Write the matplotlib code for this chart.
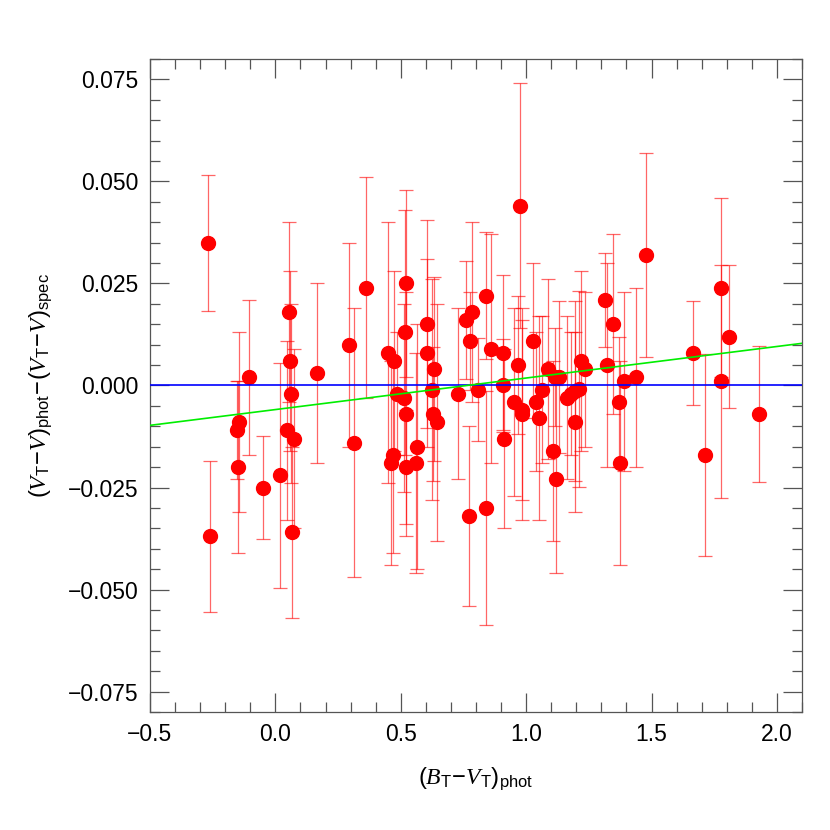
import numpy as np
import matplotlib
matplotlib.use('Agg')
import matplotlib.pyplot as plt
from matplotlib.ticker import MultipleLocator, FuncFormatter

# Colour index (B_T - V_T)_phot
bv = [-0.270, -0.262, -0.105, -0.144, -0.154, -0.150, -0.050, 0.019, 0.055, 0.059,
      0.063, 0.046, 0.075, 0.067, 0.167, 0.292, 0.315, 0.362, 0.450, 0.474,
      0.484, 0.512, 0.522, 0.521, 0.517, 0.468, 0.462, 0.519, 0.564, 0.559,
      0.604, 0.604, 0.632, 0.626, 0.629, 0.643, 0.729, 0.759, 0.785, 0.777,
      0.809, 0.774, 0.840, 0.839, 0.858, 0.909, 0.908, 0.910, 0.975, 0.969,
      0.951, 0.982, 0.982, 1.026, 1.062, 1.041, 1.050, 1.088, 1.115, 1.130,
      1.109, 1.117, 1.161, 1.179, 1.195, 1.210, 1.195, 1.217, 1.234, 1.315,
      1.347, 1.323, 1.391, 1.371, 1.374, 1.437, 1.479, 1.665, 1.712, 1.775,
      1.775, 1.809, 1.929]

# (V_T - V)_phot - (V_T - V)_spec
dv = [0.035, -0.037, 0.002, -0.009, -0.011, -0.020, -0.025, -0.022, 0.018, 0.006,
      -0.002, -0.011, -0.013, -0.036, 0.003, 0.010, -0.014, 0.024, 0.008, 0.006,
      -0.002, -0.003, -0.007, 0.025, 0.013, -0.017, -0.019, -0.020, -0.015, -0.019,
      0.015, 0.008, 0.004, -0.001, -0.007, -0.009, -0.002, 0.016, 0.018, 0.011,
      -0.001, -0.032, 0.022, -0.030, 0.009, 0.008, 0.000, -0.013, 0.044, 0.005,
      -0.004, -0.006, -0.007, 0.011, -0.001, -0.004, -0.008, 0.004, 0.002, 0.002,
      -0.016, -0.023, -0.003, -0.002, -0.0013, -0.0008, -0.009, 0.006, 0.004, 0.021,
      0.015, 0.005, 0.001, -0.004, -0.019, 0.002, 0.032, 0.008, -0.017, 0.024,
      0.001, 0.012, -0.007]

err = [0.0167, 0.0185, 0.019, 0.022, 0.012, 0.021, 0.0127, 0.0275, 0.022, 0.022,
       0.022, 0.022, 0.022, 0.021, 0.022, 0.025, 0.033, 0.027, 0.032, 0.022,
       0.015, 0.023, 0.030, 0.023, 0.030, 0.024, 0.025, 0.014, 0.030, 0.027,
       0.0255, 0.023, 0.0225, 0.027, 0.0165, 0.029, 0.021, 0.0145, 0.022, 0.012,
       0.0126, 0.022, 0.0155, 0.0286, 0.028, 0.019, 0.0113, 0.022, 0.030, 0.017,
       0.023, 0.022, 0.026, 0.019, 0.018, 0.017, 0.025, 0.022, 0.012, 0.0186,
       0.022, 0.023, 0.020, 0.015, 0.022, 0.024, 0.022, 0.022, 0.019, 0.0115,
       0.022, 0.025, 0.022, 0.016, 0.025, 0.022, 0.025, 0.0127, 0.0247, 0.022,
       0.0285, 0.0175, 0.0167]

# linear fit shown in green
fit_slope = 0.00773
fit_intercept = -0.0059

plt.rcParams['font.family'] = ['Liberation Sans', 'DejaVu Sans']
plt.rcParams['mathtext.fontset'] = 'custom'
plt.rcParams['mathtext.it'] = 'Liberation Serif:italic'
plt.rcParams['mathtext.rm'] = 'Liberation Sans'

fig = plt.figure(figsize=(8.3, 8.3), dpi=100)
ax = fig.add_axes([0.1807, 0.1422, 0.7856, 0.7867])

ax.errorbar(bv, dv, yerr=err, fmt='none', ecolor='red', alpha=0.6,
            elinewidth=0.9, capsize=4.7, capthick=0.9, zorder=2)
ax.plot(bv, dv, 'o', color='red', markersize=10, zorder=3)

xx = np.array([-0.5, 2.1])
ax.axhline(0.0, color='blue', lw=1.2, zorder=4)
ax.plot(xx, fit_intercept + fit_slope * xx, color='#00ee00', lw=1.2, zorder=4)

ax.set_xlim(-0.5, 2.1)
ax.set_ylim(-0.08, 0.08)
ax.xaxis.set_major_locator(MultipleLocator(0.5))
ax.xaxis.set_minor_locator(MultipleLocator(0.1))
ax.yaxis.set_major_locator(MultipleLocator(0.025))
ax.yaxis.set_minor_locator(MultipleLocator(0.005))
ax.xaxis.set_major_formatter(FuncFormatter(lambda v, p: f'{v:.1f}'.replace('-', '\u2212')))
ax.yaxis.set_major_formatter(FuncFormatter(lambda v, p: f'{v:.3f}'.replace('-', '\u2212')))

ax.tick_params(which='both', direction='in', top=True, right=True, color='#555555',
               labelsize=16.5, width=0.9)
ax.tick_params(which='major', length=14, pad=8)
ax.tick_params(which='minor', length=7)
for s in ax.spines.values():
    s.set_color('#555555')
    s.set_linewidth(0.9)

ax.set_xlabel(r'$(B_{\mathrm{T}}\!-\!V_{\mathrm{T}})_{\mathrm{phot}}$', fontsize=17, labelpad=14)
ax.set_ylabel(r'$(V_{\mathrm{T}}\!-\!V)_{\mathrm{phot}}\!-\!(V_{\mathrm{T}}\!-\!V)_{\mathrm{spec}}$',
              fontsize=17, labelpad=10)

fig.savefig('out.png', dpi=100)
